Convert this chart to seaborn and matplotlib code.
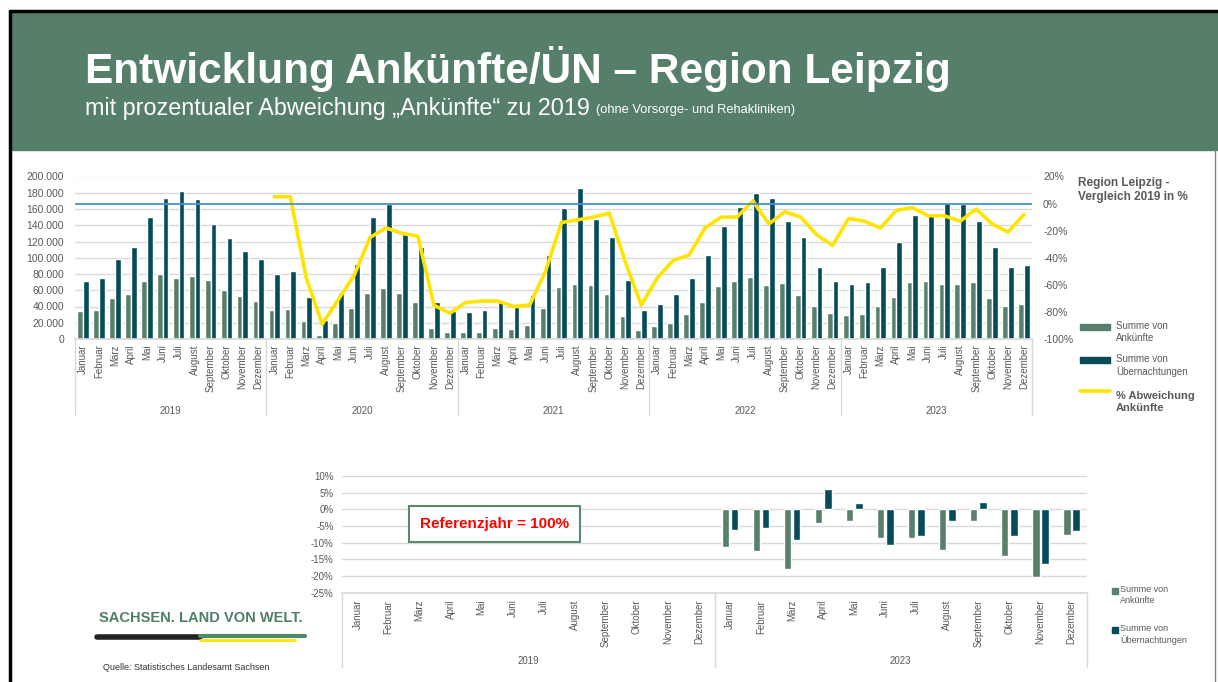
import numpy as np
import pandas as pd
import seaborn as sns
import matplotlib.pyplot as plt
from matplotlib.patches import Rectangle
from matplotlib.lines import Line2D
import matplotlib.transforms as mtransforms
from matplotlib.ticker import FuncFormatter, MultipleLocator

# --- data ---
months = ["Januar", "Februar", "März", "April", "Mai", "Juni", "Juli",
          "August", "September", "Oktober", "November", "Dezember"]
years = [2019, 2020, 2021, 2022, 2023]

ankuenfte = [35000, 36000, 50000, 55000, 72000, 80000, 75000, 78000, 73000, 60000, 53000, 47000,
             36000, 37000, 22000, 5000, 20000, 38000, 57000, 63000, 57000, 45000, 14000, 9000,
             9000, 9000, 14000, 12000, 17000, 38000, 64000, 68000, 66000, 56000, 28000, 11000,
             16000, 20000, 31000, 46000, 65000, 72000, 76000, 66000, 69000, 54000, 41000, 32000,
             30000, 31000, 41000, 52000, 70000, 72000, 68000, 68000, 70000, 51000, 41000, 43000]
uebernachtungen = [72000, 75000, 99000, 113000, 150000, 174000, 182000, 172000, 142000, 124000, 108000, 98000,
                   80000, 84000, 52000, 24000, 57000, 92000, 150000, 166000, 129000, 113000, 45000, 34000,
                   33000, 36000, 45000, 40000, 54000, 104000, 161000, 186000, 148000, 126000, 73000, 36000,
                   43000, 56000, 75000, 103000, 139000, 162000, 180000, 173000, 145000, 125000, 89000, 72000,
                   68000, 70000, 89000, 120000, 153000, 155000, 167000, 166000, 145000, 113000, 89000, 91000]
# % Abweichung Ankünfte zu 2019 (2020-2023)
abweichung = [5, 5, -55, -89, -71, -53, -25, -18, -22, -24, -75, -81,
              -73, -72, -72, -76, -75, -50, -14, -12, -10, -7, -43, -75,
              -55, -42, -38, -18, -10, -10, 2, -15, -6, -10, -23, -31,
              -11, -13, -18, -5, -3, -9, -9, -13, -4, -15, -21, -8]

# lower chart: 2023 vs. 2019 in %
ank_diff_2023 = [-11.4, -12.4, -18.0, -4.2, -3.4, -8.5, -8.7, -12.2, -3.4, -13.9, -20.2, -7.7]
ueb_diff_2023 = [-6.2, -5.7, -9.2, 6.1, 1.8, -10.7, -8.0, -3.5, 2.1, -8.0, -16.5, -6.6]

C_ANK = "#587f6b"
C_UEB = "#064b5a"
C_YEL = "#ffe400"
C_HEAD = "#567f6a"
C_TXT = "#595959"
C_GRID = "#d9d9d9"

sns.set_theme(style="white")
plt.rcParams["font.family"] = ["Liberation Sans", "DejaVu Sans"]

W, H = 1218, 682
fig = plt.figure(figsize=(W / 100, H / 100), dpi=100)


def fx(px):
    return px / W


def fy(py):
    return 1 - py / H


# header band and frame
fig.patches.append(Rectangle((fx(10), fy(150)), fx(1208), fy(11) - fy(150),
                             transform=fig.transFigure, color=C_HEAD, zorder=0))
fig.add_artist(Line2D([fx(10), fx(1218)], [fy(11), fy(11)], color="black", lw=2.5))
fig.add_artist(Line2D([fx(10), fx(10)], [fy(11), 0], color="black", lw=2.5))
fig.add_artist(Line2D([fx(1215), fx(1215)], [fy(150), 0], color="#808080", lw=1))

fig.text(fx(85), fy(69), "Entwicklung Ankünfte/ÜN – Region Leipzig", color="white",
         fontsize=30.5, fontweight="bold", va="center", ha="left")
sub = fig.text(fx(85), fy(108), "mit prozentualer Abweichung „Ankünfte“ zu 2019", color="white",
               fontsize=16.8, va="center", ha="left")
fig.canvas.draw()
sub_end = sub.get_window_extent().x1
fig.text(sub_end / W + fx(6), fy(110), "(ohne Vorsorge- und Rehakliniken)", color="white",
         fontsize=9.3, va="center", ha="left")

# --- upper chart ---
cats = [f"{y}-{m}" for y in years for m in months]
df = pd.DataFrame({
    "cat": cats * 2,
    "wert": ankuenfte + uebernachtungen,
    "serie": ["Summe von Ankünfte"] * len(cats) + ["Summe von Übernachtungen"] * len(cats),
})

ax = fig.add_axes([fx(75), fy(339), fx(1032) - fx(75), fy(176.5) - fy(339)])
sns.barplot(data=df, x="cat", y="wert", hue="serie", order=cats,
            palette=[C_ANK, C_UEB], width=0.72, ax=ax, legend=False, saturation=1)
ax.set_xlim(-0.5, len(cats) - 0.5)
ax.set_ylim(0, 200000)
ax.yaxis.set_major_locator(MultipleLocator(20000))
ax.yaxis.set_major_formatter(FuncFormatter(lambda v, p: f"{v:,.0f}".replace(",", ".")))
ax.grid(axis="y", color=C_GRID, lw=1)
ax.set_axisbelow(True)
ax.set_xlabel("")
ax.set_ylabel("")
ax.set_xticks(range(len(cats)))
ax.set_xticklabels(months * len(years), rotation=90, fontsize=7, color=C_TXT)
ax.tick_params(axis="y", labelsize=7.5, labelcolor=C_TXT, length=0, pad=8)
ax.tick_params(axis="x", length=0, pad=4)
for s in ["top", "right", "left"]:
    ax.spines[s].set_visible(False)
ax.spines["bottom"].set_color(C_GRID)

trans = mtransforms.blended_transform_factory(ax.transData, ax.transAxes)
for i in range(len(years) + 1):
    xs = i * 12 - 0.5
    ax.plot([xs, xs], [0, -0.47], transform=trans, clip_on=False, color=C_GRID, lw=1)
for i, y in enumerate(years):
    ax.text(i * 12 + 5.5, -0.44, str(y), transform=trans, ha="center", va="center",
            fontsize=7, color=C_TXT)

ax2 = ax.twinx()
x_line = np.arange(12, len(cats))
sns.lineplot(x=x_line, y=abweichung, ax=ax2, color=C_YEL, lw=2.6, legend=False)
ax2.axhline(0, color="#4a90d0", lw=1.3)
ax2.set_ylim(-100, 20)
ax2.set_xlim(-0.5, len(cats) - 0.5)
ax2.yaxis.set_major_locator(MultipleLocator(20))
ax2.yaxis.set_major_formatter(FuncFormatter(lambda v, p: f"{v:.0f}%"))
ax2.tick_params(axis="y", labelsize=7.5, labelcolor=C_TXT, length=0, pad=8)
for s in ["top", "right", "left", "bottom"]:
    ax2.spines[s].set_visible(False)

# legend upper chart
fig.text(fx(1078), fy(190), "Region Leipzig -\nVergleich 2019 in %", fontsize=8.5,
         fontweight="bold", color=C_TXT, va="center", ha="left", linespacing=1.3)
for yy, col, lab in [(327, C_ANK, "Summe von\nAnkünfte"), (360, C_UEB, "Summe von\nÜbernachtungen")]:
    fig.patches.append(Rectangle((fx(1080), fy(yy + 3)), fx(30), fy(yy - 3) - fy(yy + 3),
                                 transform=fig.transFigure, color=col))
    fig.text(fx(1116), fy(yy - 6), lab, fontsize=7, color=C_TXT, va="top", ha="left",
             linespacing=1.25)
fig.add_artist(Line2D([fx(1080), fx(1110)], [fy(391), fy(391)], color=C_YEL, lw=2.6))
fig.text(fx(1116), fy(391), "% Abweichung\nAnkünfte", fontsize=8, fontweight="bold",
         color=C_TXT, va="top", ha="left", linespacing=1.3)

# --- lower chart ---
cats2 = [f"{y}-{m}" for y in (2019, 2023) for m in months]
df2 = pd.DataFrame({
    "cat": cats2 * 2,
    "wert": [np.nan] * 12 + ank_diff_2023 + [np.nan] * 12 + ueb_diff_2023,
    "serie": ["Summe von Ankünfte"] * 24 + ["Summe von Übernachtungen"] * 24,
})
bx = fig.add_axes([fx(342), fy(592.7), fx(1087) - fx(342), fy(476) - fy(592.7)])
sns.barplot(data=df2, x="cat", y="wert", hue="serie", order=cats2,
            palette=[C_ANK, C_UEB], width=0.6, gap=0.2, ax=bx, legend=False, saturation=1)
bx.set_xlim(-0.5, 23.5)
bx.set_ylim(-25, 10)
bx.yaxis.set_major_locator(MultipleLocator(5))
bx.yaxis.set_major_formatter(FuncFormatter(lambda v, p: f"{v:.0f}%"))
bx.grid(axis="y", color=C_GRID, lw=1)
bx.set_axisbelow(True)
bx.set_xlabel("")
bx.set_ylabel("")
bx.set_xticks(range(24))
bx.set_xticklabels(months * 2, rotation=90, fontsize=7, color=C_TXT)
bx.tick_params(axis="y", labelsize=7, labelcolor=C_TXT, length=0, pad=6)
bx.tick_params(axis="x", length=0, pad=5)
for s in ["top", "right", "left"]:
    bx.spines[s].set_visible(False)
bx.spines["bottom"].set_color(C_GRID)
trans2 = mtransforms.blended_transform_factory(bx.transData, bx.transAxes)
for i in range(3):
    xs = i * 12 - 0.5
    bx.plot([xs, xs], [0, -0.64], transform=trans2, clip_on=False, color=C_GRID, lw=1)
for i, y in enumerate((2019, 2023)):
    bx.text(i * 12 + 5.5, -0.585, str(y), transform=trans2, ha="center", va="center",
            fontsize=7, color=C_TXT)
bx.text(0.205, 0.59, "Referenzjahr = 100%", transform=bx.transAxes, ha="center", va="center",
        fontsize=11, fontweight="bold", color="#ff0000",
        bbox=dict(boxstyle="square,pad=0.7", fc="white", ec="#5a8a6e", lw=1.5))

for yy, col, lab in [(597, C_ANK, "Summe von\nAnkünfte"), (636, C_UEB, "Summe von\nÜbernachtungen")]:
    fig.patches.append(Rectangle((fx(1112), fy(yy - 3)), fx(6), fy(yy - 9) - fy(yy - 3),
                                 transform=fig.transFigure, color=col))
    fig.text(fx(1120), fy(yy - 12), lab, fontsize=6.5, color=C_TXT, va="top", ha="left",
             linespacing=1.3)

# logo and source
fig.text(fx(201), fy(618), "SACHSEN. LAND VON WELT.", fontsize=10.5, fontweight="bold",
         color="#4f7f66", ha="center", va="center")
fig.add_artist(Line2D([fx(97), fx(200)], [fy(637), fy(637)], color="#222222", lw=4))
fig.add_artist(Line2D([fx(200), fx(305)], [fy(636), fy(636)], color="#4f8a66", lw=3))
fig.add_artist(Line2D([fx(200), fx(295)], [fy(640), fy(640)], color=C_YEL, lw=2))
fig.text(fx(103), fy(667), "Quelle: Statistisches Landesamt Sachsen", fontsize=6.5,
         color="#333333", ha="left", va="center")

plt.savefig("out.png", dpi=100)
